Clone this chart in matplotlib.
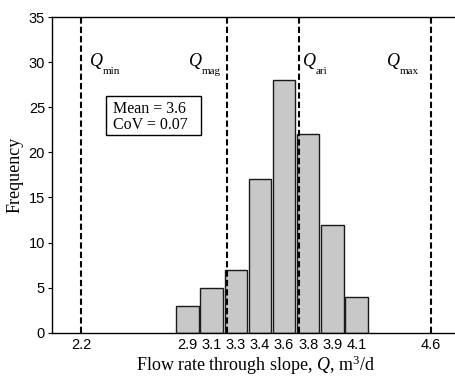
import matplotlib
matplotlib.use("Agg")
import matplotlib.pyplot as plt
from matplotlib.patches import Rectangle

# histogram of flow rate (bin centres, counts)
centres = [2.93, 3.096, 3.262, 3.428, 3.594, 3.76, 3.926, 4.092]
counts = [3, 5, 7, 17, 28, 22, 12, 4]
centre_labels = ["2.9", "3.1", "3.3", "3.4", "3.6", "3.8", "3.9", "4.1"]

# reference flow rates and where their labels sit
q_names = ["min", "mag", "ari", "max"]
q_values = [2.2, 3.205, 3.70, 4.6]
q_label_x = [2.261, 2.941, 3.724, 4.301]

serif = 'Liberation Serif'
sans = 'Liberation Sans'

# mathtext in Times-like serif (must be set before texts are made)
plt.rcParams['mathtext.fontset'] = 'custom'
plt.rcParams['mathtext.rm'] = serif
plt.rcParams['mathtext.it'] = serif + ':italic'

fig = plt.figure(figsize=(4.56, 3.77), dpi=100)
ax = fig.add_axes([0.114, 0.1175, 0.894, 0.837])

ax.bar(centres, counts, width=0.154, color='#c8c8c8', edgecolor='#1a1a1a', linewidth=1.0, zorder=2)

for q in q_values:
    ax.axvline(q, color='black', linestyle=(0, (3, 1.5)), linewidth=1.5, zorder=3)

# Q labels: italic Q with a small, well lowered subscript
for name, x in zip(q_names, q_label_x):
    ax.text(x, 29.57, 'Q', fontsize=13, family=serif, style='italic', va='baseline', ha='left')
    ax.annotate(name, (x, 29.57), xytext=(9.4, -5.8), textcoords='offset points',
                fontsize=8, family=serif, va='baseline', ha='left')

# stats box
ax.add_patch(Rectangle((2.371, 21.9), 0.653, 4.34, facecolor='white', edgecolor='black',
                       linewidth=1.0, zorder=4))
ax.text(2.419, 24.85, "Mean = 3.6", fontsize=11.5, family=serif, va='center', ha='left', zorder=5)
ax.text(2.419, 23.05, "CoV = 0.07", fontsize=11.5, family=serif, va='center', ha='left', zorder=5)

ax.set_xlim(2.0, 4.8)
ax.set_ylim(0, 35)
ax.set_xticks([2.2] + centres + [4.6])
ax.set_xticklabels(["2.2"] + centre_labels + ["4.6"], family=sans, fontsize=10.5)
ax.set_yticks(range(0, 36, 5))
ax.set_yticklabels([str(v) for v in range(0, 36, 5)], family=sans, fontsize=10.5)
ax.tick_params(axis='x', length=0, pad=4)
ax.tick_params(axis='y', direction='out', length=3, width=0.8, pad=2)

ax.set_xlabel('Flow rate through slope, $Q$, m$^3$/d', family=serif, fontsize=13, labelpad=1)
ax.set_ylabel('Frequency', family=serif, fontsize=13, labelpad=4)

for s in ax.spines.values():
    s.set_linewidth(1.0)

fig.savefig("out.png", dpi=100)
